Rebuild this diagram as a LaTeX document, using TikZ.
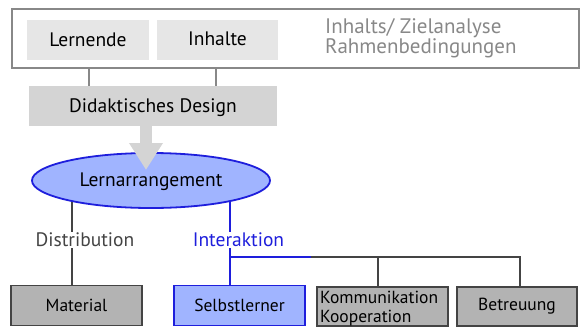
\documentclass[tikz,border=0pt]{standalone}
\usepackage{fontspec}
\setmainfont{PT Sans}
\usepackage{xcolor}
\definecolor{Col1}{RGB}{136,136,136}
\definecolor{Col2}{RGB}{230,230,230}
\definecolor{Col3}{RGB}{212,212,212}
\definecolor{Col4}{RGB}{179,179,179}
\definecolor{Col5}{RGB}{68,68,68}
\definecolor{Col6}{RGB}{160,180,255}
\definecolor{Col7}{RGB}{30,30,220}
\usepackage{tikz}
\usetikzlibrary{shapes.geometric}
\usetikzlibrary{arrows.meta}
\tikzstyle{Frame}=[draw=Col1,line width=2pt,inner sep=0pt]
\tikzstyle{TopBox}=[fill=Col2,inner sep=0pt,minimum height=40pt,text depth=1pt,
font=\fontsize{19.5}{21}\selectfont]
\tikzstyle{LowBox}=[draw=Col5,fill=Col4,line width=1.8pt,inner sep=0pt,
minimum height=40pt,font=\fontsize{17.5}{19}\selectfont]
\tikzstyle{BlueBox}=[draw=Col7,fill=Col6,line width=1.8pt,inner sep=0pt,
minimum height=40pt,font=\fontsize{17.5}{19}\selectfont]
\tikzstyle{Edge}=[draw=Col5,line width=2pt]
\tikzstyle{BlueEdge}=[draw=Col7,line width=2pt]
\tikzstyle{LabelST}=[fill=white,inner sep=1pt,font=\fontsize{19.5}{21}\selectfont]

\begin{document}
\begin{tikzpicture}[x=1pt,y=-1pt]
        \useasboundingbox(0,0)rectangle(580,327);
        \node[Frame,minimum width=567pt,minimum height=59pt](frame)at(295.5,38.5){};
        \node[TopBox,minimum width=122pt](lernende)at(88,40){Lernende};
        \node[TopBox,minimum width=121pt](inhalte)at(217.5,39.5){Inhalte};
        \node[anchor=west,align=left,text=Col1,inner sep=0pt,
            font=\fontsize{21}{20}\selectfont](analyse)at(325,38){Inhalts/ Zielanalyse\\Rahmenbedingungen};
        \node[TopBox,fill=Col3,minimum width=248pt](design)at(153,106){Didaktisches Design};
        \draw[draw=Col1,line width=2pt](frame.south-|89,0)--(design.north-|89,0);
        \draw[draw=Col1,line width=2pt](frame.south-|216,0)--(design.north-|216,0);
        \node[ellipse,draw=Col7,fill=Col6,line width=1.8pt,minimum width=238pt,minimum height=55pt,
            text depth=1pt,font=\fontsize{19.5}{21}\selectfont](arrangement)at(151,180.5){Lernarrangement};
        \coordinate(tip)at(146,170);
        \draw[Col3,line width=12pt,-{Triangle[width=32pt,length=27pt]}](design.south-|tip)--(tip);
        \node[LowBox,minimum width=131pt](material)at(76.5,305.5){Material};
        \node[BlueBox,minimum width=131pt](selbst)at(239.5,305.5){Selbstlerner};
        \node[LowBox,minimum width=131pt,minimum height=39pt](komm)at(382.5,306.5){};
        \node[anchor=north west,align=left,inner sep=0pt,
            font=\fontsize{17.5}{18.5}\selectfont](kommtext)at(320,291){Kommunikation\\Kooperation};
        \node[LowBox,minimum width=120pt,minimum height=39pt](betreuung)at(517,306.5){Betreuung};
        \draw[Edge](arrangement.195)--(arrangement.195|-material.north);
        \draw[BlueEdge](arrangement.345)--(arrangement.345|-selbst.north);
        \node[LabelST,text=Col5](distribution)at(85,240){Distribution};
        \node[LabelST,text=Col7](interaktion)at(238.5,240){Interaktion};
        \coordinate(split)at(311,257);
        \coordinate(kk)at(378,257);
        \coordinate(bb)at(520,257);
        \draw[BlueEdge](arrangement.345|-split)--(split);
        \draw[Edge](split)--(bb)--(bb|-betreuung.north);
        \draw[Edge](kk)--(kk|-komm.north);
    \end{tikzpicture}
\end{document}
